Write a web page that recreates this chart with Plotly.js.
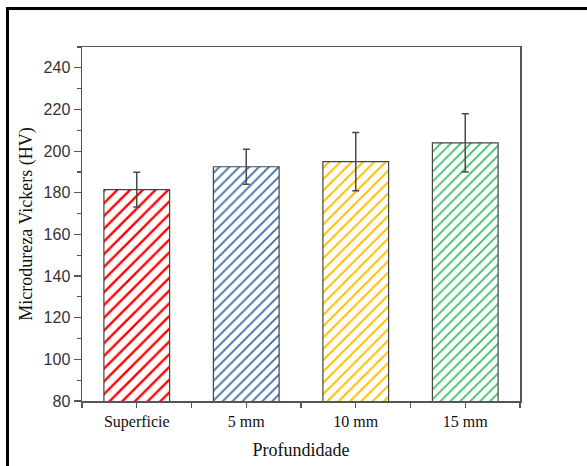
<!DOCTYPE html>
<html>
<head>
<meta charset="utf-8">
<script src="https://cdn.plot.ly/plotly-3.0.1.min.js"></script>
<style>
  html, body { margin: 0; padding: 0; background: #fff; }
  #wrap { position: relative; width: 587px; height: 466px; overflow: hidden; }
  #chart { width: 587px; height: 466px; }
  #frame { position: absolute; left: 6px; top: 7px; width: 600px; height: 480px;
           border-left: 3px solid #000; border-top: 3px solid #000; pointer-events: none; }
</style>
</head>
<body>
<div id="wrap">
  <div id="chart"></div>
  <div id="frame"></div>
</div>
<script>
const categories = ['Superficie', '5 mm', '10 mm', '15 mm'];
const hardness = [181.5, 192.5, 195, 204];
const hardnessErr = [8.3, 8.4, 14, 14];
const barColors = ['#FF0000', '#3A6CA6', '#FFC000', '#3DBF6C'];
const stripeSizes = [9, 7, 8, 7];
const yTicks = [80, 100, 120, 140, 160, 180, 200, 220, 240];

const positions = categories.map((c, i) => i);
const boundaries = [-0.5].concat(positions.map(p => p + 0.5));

const trace = {
  type: 'bar',
  x: positions,
  y: hardness,
  width: 0.6,
  marker: {
    color: '#ffffff',
    line: { color: '#444444', width: 1.2 },
    pattern: {
      shape: '/',
      fgcolor: barColors,
      fgopacity: 1,
      bgcolor: '#ffffff',
      size: stripeSizes,
      solidity: 0.26,
      fillmode: 'replace'
    }
  },
  error_y: {
    type: 'data',
    array: hardnessErr,
    visible: true,
    color: '#4a4a4a',
    thickness: 1.5,
    width: 3.5
  },
  hoverinfo: 'none'
};

const layout = {
  width: 587,
  height: 466,
  margin: { l: 82, r: 67, t: 47, b: 65 },
  paper_bgcolor: '#ffffff',
  plot_bgcolor: '#ffffff',
  showlegend: false,
  xaxis: {
    type: 'linear',
    range: [-0.5, 3.5],
    tickmode: 'array',
    tickvals: positions,
    ticktext: categories,
    ticks: 'outside',
    ticklen: 5,
    tickwidth: 1.2,
    tickcolor: '#555555',
    minor: { tickmode: 'array', tickvals: boundaries, ticks: 'outside', ticklen: 5, tickwidth: 1.2, tickcolor: '#555555' },
    showgrid: false,
    zeroline: false,
    showline: true,
    mirror: true,
    linecolor: '#555555',
    linewidth: 1.5,
    tickfont: { family: 'Liberation Serif, Times New Roman, serif', size: 16, color: '#111111' },
    title: {
      text: 'Profundidade',
      font: { family: 'Liberation Serif, Times New Roman, serif', size: 18, color: '#111111' },
      standoff: 13
    }
  },
  yaxis: {
    range: [80, 250],
    tickmode: 'array',
    tickvals: yTicks,
    ticks: 'outside',
    ticklen: 7,
    tickwidth: 1.2,
    tickcolor: '#555555',
    minor: { dtick: 10, tick0: 0, ticks: 'outside', ticklen: 4, tickwidth: 1.2, tickcolor: '#555555' },
    showgrid: false,
    zeroline: false,
    showline: true,
    mirror: true,
    linecolor: '#555555',
    linewidth: 1.5,
    tickfont: { family: 'Liberation Sans, Arial, sans-serif', size: 16, color: '#333333' },
    title: {
      text: 'Microdureza Vickers (HV)',
      font: { family: 'Liberation Serif, Times New Roman, serif', size: 18, color: '#111111' },
      standoff: 6
    }
  }
};

Plotly.newPlot('chart', [trace], layout, { staticPlot: true, displayModeBar: false });
</script>
</body>
</html>
